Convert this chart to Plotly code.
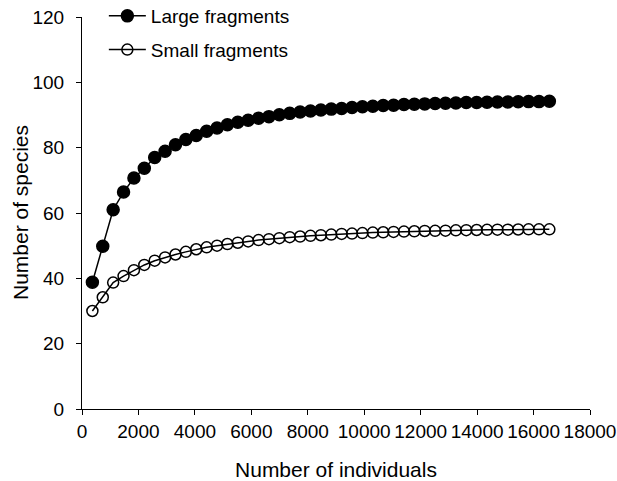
import plotly.graph_objects as go

step = 368
n_points = 45
individuals = [step * k for k in range(1, n_points + 1)]

large_fragments = [
    38.8, 49.8, 61.0, 66.4, 70.7, 73.7, 77.0, 78.9, 80.9, 82.5,
    83.7, 85.0, 86.0, 87.0, 87.8, 88.4, 89.0, 89.5, 90.1, 90.5,
    90.9, 91.2, 91.5, 91.8, 92.0, 92.3, 92.5, 92.7, 92.9, 93.0,
    93.2, 93.3, 93.4, 93.5, 93.6, 93.7, 93.8, 93.85, 93.9, 94.0,
    94.0, 94.05, 94.1, 94.1, 94.2,
]

small_fragments = [
    30.0, 34.2, 38.7, 40.7, 42.5, 44.1, 45.4, 46.4, 47.3, 48.1,
    48.9, 49.5, 50.0, 50.5, 50.9, 51.3, 51.7, 52.0, 52.3, 52.6,
    52.8, 53.0, 53.2, 53.4, 53.6, 53.7, 53.85, 54.0, 54.1, 54.2,
    54.3, 54.4, 54.5, 54.55, 54.6, 54.7, 54.75, 54.8, 54.85, 54.9,
    54.9, 54.95, 55.0, 55.0, 55.0,
]

x_ticks = list(range(0, 18001, 2000))
x_tick_labels = [str(v) for v in x_ticks]
y_ticks = list(range(0, 121, 20))
y_tick_labels = [str(v) for v in y_ticks]

x_title = "Number of individuals"
y_title = "Number of species"

FONT = "Liberation Sans, Arial, sans-serif"

fig = go.Figure()
fig.add_trace(go.Scatter(
    x=individuals, y=large_fragments, name="Large fragments",
    mode="lines+markers", legendgroup="large",
    line=dict(color="black", width=1.5),
    marker=dict(symbol="circle", size=12, color="black",
                line=dict(color="black", width=1.5)),
))
fig.add_trace(go.Scatter(
    x=individuals, y=small_fragments, name="Small fragments",
    mode="lines+markers", legendgroup="small",
    line=dict(color="black", width=1.5),
    marker=dict(symbol="circle-open", size=11, color="black",
                line=dict(color="black", width=1.5)),
))

fig.update_layout(
    width=617, height=481,
    paper_bgcolor="white", plot_bgcolor="white",
    margin=dict(l=82, r=27, t=17, b=72, autoexpand=False),
    font=dict(family=FONT, size=19, color="black"),
    showlegend=True,
    legend=dict(
        x=0.043, y=1.051, xanchor="left", yanchor="top",
        bgcolor="rgba(0,0,0,0)", borderwidth=0,
        traceorder="grouped", tracegroupgap=6, itemwidth=37,
        font=dict(family=FONT, size=19, color="black"),
    ),
    annotations=[dict(
        text=y_title, textangle=-90,
        xref="paper", yref="paper", x=-0.122, y=0.5,
        xanchor="center", yanchor="middle", showarrow=False,
        font=dict(family=FONT, size=21, color="black"),
    )],
)
fig.update_xaxes(
    range=[0, 18000], tickvals=x_ticks, ticktext=x_tick_labels,
    showgrid=False, zeroline=False, automargin=False,
    showline=True, linecolor="black", linewidth=1,
    ticks="outside", ticklen=5, tickcolor="black", tickwidth=1,
    tickfont=dict(family=FONT, size=19, color="black"),
    title=dict(text=x_title, font=dict(family=FONT, size=21, color="black"), standoff=21),
)
fig.update_yaxes(
    range=[0, 120], tickvals=y_ticks, ticktext=y_tick_labels,
    showgrid=False, zeroline=False, automargin=False,
    showline=True, linecolor="black", linewidth=1,
    ticks="outside", ticklen=5, tickcolor="black", tickwidth=1,
    ticklabelstandoff=8,
    tickfont=dict(family=FONT, size=19, color="black"),
)

fig.write_html(
    "out.html",
    config={"displayModeBar": False},
    post_script="document.body.style.margin='0';document.body.style.padding='0';",
)
